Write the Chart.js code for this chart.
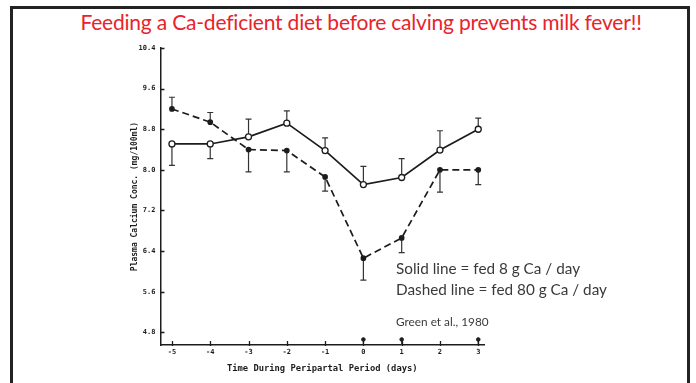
<!DOCTYPE html>
<html>
<head>
<meta charset="utf-8">
<script src="https://cdn.jsdelivr.net/npm/chart.js@4"></script>
<style>
  html, body { margin: 0; padding: 0; background: #fff; }
  #slide { position: relative; width: 696px; height: 383px; overflow: hidden; }
  #frame {
    position: absolute; left: 10px; top: 6px; width: 674px; height: 400px;
    border: 3px solid #232323; border-bottom: none;
  }
  #title {
    position: absolute; left: 0; top: 9px; width: 722px; text-align: center;
    font-family: Lato, "Open Sans", sans-serif; font-size: 21px; color: #e8232b;
    letter-spacing: -0.2px; white-space: nowrap;
  }
  .note {
    position: absolute; left: 396px; font-family: Lato, "Open Sans", sans-serif;
    color: #3a3a3a; white-space: nowrap;
  }
  #wrap { position: absolute; left: 0; top: 0; width: 696px; height: 383px; }
</style>
</head>
<body>
<div id="slide">
  <div id="frame"></div>
  <div id="title">Feeding a Ca-deficient diet before calving prevents milk fever!!</div>
  <div id="wrap"><canvas id="myChart"></canvas></div>
  <div class="note" style="top:259px; font-size:15.3px;">Solid line = fed 8 g Ca / day</div>
  <div class="note" style="top:280px; font-size:15.3px;">Dashed line = fed 80 g Ca / day</div>
  <div class="note" style="top:314px; font-size:11.8px;">Green et al., 1980</div>
</div>
<script>
// Días respecto al parto
const dias = [-5, -4, -3, -2, -1, 0, 1, 2, 3];

// Calcio plasmático (mg/100ml)
const calcio8g = [8.51, 8.51, 8.65, 8.92, 8.38, 7.71, 7.85, 8.39, 8.80];
const calcio80g = [9.20, 8.94, 8.40, 8.38, 7.86, 6.26, 6.66, 8.00, 8.00];

// Extremo de cada barra de error
const error8g = [8.09, 8.22, 9.00, 9.16, 8.63, 8.07, 8.22, 8.77, 9.02];
const error80g = [9.43, 9.13, 7.96, 7.96, 7.58, 5.83, 6.37, 7.56, 7.71];

// Marcas sobre el eje en días con diferencia significativa
const diasMarcados = [0, 1, 3];
const nivelMarca = 4.66;

const yTicks = [4.8, 5.6, 6.4, 7.2, 8.0, 8.8, 9.6, 10.4];
const xTicks = [-5, -4, -3, -2, -1, 0, 1, 2, 3];

const INK = '#1c1c1c';
const MONO = { family: '"DejaVu Sans Mono", monospace', weight: 'bold' };

function puntos(xs, ys) {
    return xs.map((x, i) => ({ x: x, y: ys[i] }));
}

// Barras de error verticales con remate
const errorBars = {
    id: 'errorBars',
    beforeDatasetsDraw(chart) {
        const ctx = chart.ctx;
        const xs = chart.scales.x, ys = chart.scales.y;
        ctx.save();
        ctx.strokeStyle = '#333';
        ctx.lineWidth = 1.2;
        [[calcio8g, error8g], [calcio80g, error80g]].forEach(([vals, ends]) => {
            dias.forEach((d, i) => {
                const px = xs.getPixelForValue(d);
                const y0 = ys.getPixelForValue(vals[i]);
                const y1 = ys.getPixelForValue(ends[i]);
                ctx.beginPath();
                ctx.moveTo(px, y0); ctx.lineTo(px, y1);
                ctx.moveTo(px - 3, y1); ctx.lineTo(px + 3, y1);
                ctx.stroke();
            });
        });
        // palitos de las marcas hasta el eje
        diasMarcados.forEach(d => {
            const px = xs.getPixelForValue(d);
            ctx.beginPath();
            ctx.moveTo(px, ys.getPixelForValue(nivelMarca));
            ctx.lineTo(px, chart.chartArea.bottom);
            ctx.stroke();
        });
        ctx.restore();
    }
};

// Marcas de graduación hacia dentro del gráfico
const inwardTicks = {
    id: 'inwardTicks',
    afterDraw(chart) {
        const ctx = chart.ctx;
        const a = chart.chartArea;
        const xs = chart.scales.x, ys = chart.scales.y;
        ctx.save();
        ctx.strokeStyle = INK;
        ctx.lineWidth = 1.3;
        ctx.beginPath();
        yTicks.forEach(v => {
            const py = Math.round(ys.getPixelForValue(v)) + 0.5;
            ctx.moveTo(a.left, py); ctx.lineTo(a.left + 4, py);
        });
        xTicks.forEach(v => {
            const px = Math.round(xs.getPixelForValue(v)) + 0.5;
            ctx.moveTo(px, a.bottom + 1); ctx.lineTo(px, a.bottom - 4);
        });
        ctx.stroke();
        ctx.restore();
    }
};

const ctx = document.getElementById('myChart').getContext('2d');
new Chart(ctx, {
    type: 'line',
    data: {
        datasets: [{
            label: '8 g Ca',
            data: puntos(dias, calcio8g),
            borderColor: INK,
            borderWidth: 1.7,
            pointRadius: 3,
            pointBorderWidth: 1.3,
            pointBackgroundColor: '#fff',
            pointBorderColor: INK,
            tension: 0
        }, {
            label: '80 g Ca',
            data: puntos(dias, calcio80g),
            borderColor: INK,
            borderWidth: 1.7,
            borderDash: [7, 4],
            pointRadius: 2,
            pointBackgroundColor: INK,
            pointBorderColor: INK,
            tension: 0
        }, {
            label: 'marcas',
            data: diasMarcados.map(d => ({ x: d, y: nivelMarca })),
            showLine: false,
            pointRadius: 1.8,
            pointBackgroundColor: INK,
            pointBorderColor: INK
        }]
    },
    options: {
        responsive: true,
        maintainAspectRatio: false,
        animation: false,
        devicePixelRatio: 1,
        layout: { padding: { left: 130, top: 48, right: 212, bottom: 9 } },
        plugins: {
            legend: { display: false },
            tooltip: { enabled: false }
        },
        scales: {
            x: {
                type: 'linear',
                min: -5.3,
                max: 3.15,
                afterBuildTicks: s => { s.ticks = xTicks.map(v => ({ value: v })); },
                grid: { display: true, drawOnChartArea: false, drawTicks: false },
                border: { color: INK, width: 1.5 },
                ticks: { color: INK, font: { ...MONO, size: 7 }, padding: 3 },
                title: {
                    display: true,
                    text: 'Time During Peripartal Period (days)',
                    color: INK,
                    font: { ...MONO, size: 8.8 },
                    padding: { top: 4, bottom: 0 }
                }
            },
            y: {
                min: 4.55,
                max: 10.4,
                afterBuildTicks: s => { s.ticks = yTicks.map(v => ({ value: v })); },
                grid: { display: true, drawOnChartArea: false, drawTicks: false },
                border: { color: INK, width: 1.5 },
                ticks: {
                    color: INK,
                    font: { ...MONO, size: 7 },
                    padding: 5,
                    callback: v => v.toFixed(1)
                },
                title: {
                    display: true,
                    text: 'Plasma Calcium Conc. (mg/100ml)',
                    color: INK,
                    font: { ...MONO, size: 8 },
                    padding: { top: 0, bottom: -6 }
                }
            }
        }
    },
    plugins: [errorBars, inwardTicks]
});
</script>
</body>
</html>
